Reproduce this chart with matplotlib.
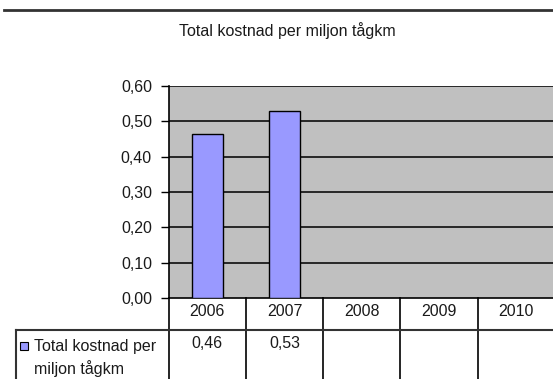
# -*- coding: utf-8 -*-

import matplotlib
matplotlib.use('Agg')
import matplotlib.pyplot as plt
from matplotlib.lines import Line2D

plt.rcParams['font.family'] = ['Liberation Sans', 'DejaVu Sans']

# data
years = ['2006', '2007', '2008', '2009', '2010']
values = [0.4646, 0.528, None, None, None]
value_labels = ['0,46', '0,53', '', '', '']
yticks = [0.0, 0.1, 0.2, 0.3, 0.4, 0.5, 0.6]
series_name = 'Total kostnad per\nmiljon tågkm'
title = 'Total kostnad per miljon tågkm'

W, H = 553, 379
fs = 11.5
fig = plt.figure(figsize=(W / 100, H / 100), dpi=100)
fig.patch.set_facecolor('white')

# plot area in pixels: left 168.6, right 555, top 86, bottom 298
left, right, top, bottom = 168.6, 555.0, 86.0, 298.0
ax = fig.add_axes([left / W, 1 - bottom / H, (right - left) / W, (bottom - top) / H])
ax.set_facecolor('#C0C0C0')

x = list(range(len(years)))
bx = [i for i, v in zip(x, values) if v is not None]
bv = [v for v in values if v is not None]
ax.bar(bx, bv, width=0.4, color='#9999FF', edgecolor='black', linewidth=1, zorder=3)

ax.set_xlim(-0.5, len(years) - 0.5)
ax.set_ylim(0, 0.6)
ax.set_yticks(yticks)
ax.set_yticklabels([('%.2f' % t).replace('.', ',') for t in yticks], fontsize=fs, color='#1a1a1a')
ax.tick_params(axis='y', length=6, width=1, pad=6, color='black')
ax.set_xticks([])
for t in yticks[1:]:
    ax.axhline(t, color='#1a1a1a', linewidth=1.3, zorder=2)

for s in ['top', 'right', 'bottom']:
    ax.spines[s].set_visible(False)
ax.spines['left'].set_color('black')
ax.spines['left'].set_linewidth(1.2)

# data table under the chart
tr = ax.get_xaxis_transform()
ph = bottom - top
def fy(py):
    return (bottom - py) / ph

y_row = fy(330)
y_end = fy(H + 2)
x_leg = (16 - left) / ((right - left) / len(years)) - 0.5

for k in range(len(years) + 1):
    ax.plot([k - 0.5, k - 0.5], [0, y_end], color='black', lw=1.2, transform=tr, clip_on=False)
ax.plot([-0.5, len(years) - 0.5], [0, 0], color='black', lw=1.2, transform=tr, clip_on=False)
ax.plot([x_leg, len(years) - 0.5], [y_row, y_row], color='#333333', lw=1.5, transform=tr, clip_on=False)
ax.plot([x_leg, x_leg], [y_row, y_end], color='#333333', lw=1.5, transform=tr, clip_on=False)

for i, (yr, lab) in enumerate(zip(years, value_labels)):
    ax.text(i, fy(312), yr, ha='center', va='center', fontsize=fs, color='#1a1a1a',
            transform=tr, clip_on=False)
    ax.text(i, fy(343.5), lab, ha='center', va='center', fontsize=fs, color='#1a1a1a',
            transform=tr, clip_on=False)

# legend key
ax.plot([x_leg + 0.1], [fy(345.5)], marker='s', markersize=5.5, color='#9999FF',
        markeredgecolor='black', markeredgewidth=0.8, transform=tr, clip_on=False)
fig.text(34 / W, 1 - 358 / H, series_name, ha='left', va='center', fontsize=fs,
         color='#1a1a1a', linespacing=1.45)

# title and top rule
fig.add_artist(Line2D([4 / W, 1], [1 - 10 / H, 1 - 10 / H], color='#333333', lw=2))
fig.text(287 / W, 1 - 31 / H, title, ha='center', va='center', fontsize=fs, color='#1a1a1a')

fig.savefig('out.png', dpi=100)
